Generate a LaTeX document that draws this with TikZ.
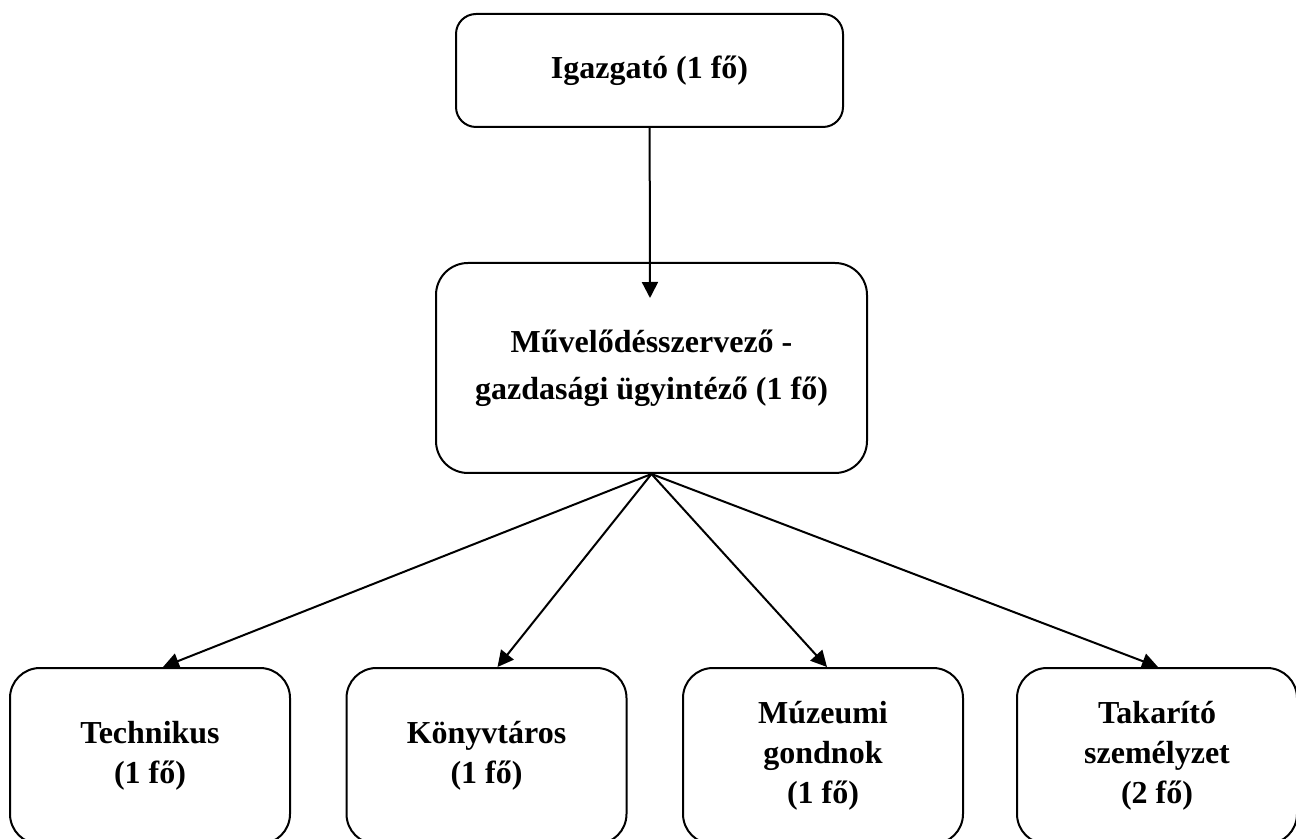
\documentclass[tikz,border=0pt]{standalone}
\usepackage{fontspec}
\setmainfont{Liberation Serif}
\usetikzlibrary{positioning,arrows.meta}
\tikzset{%
  every unit/.style={
    draw,
    line width=1pt,
    align=center,
    font=\bfseries\fontsize{16}{20}\selectfont
  },
  head unit/.style={
    every unit,
    rounded corners=10pt,
    minimum width=193.5pt,
    minimum height=56.5pt
  },
  mid unit/.style={
    every unit,
    rounded corners=16pt,
    minimum width=215.5pt,
    minimum height=105pt,
    font=\bfseries\fontsize{16}{23.5}\selectfont
  },
  staff unit/.style={
    every unit,
    rounded corners=15pt,
    minimum width=140pt,
    minimum height=88pt
  },
}

\begin{document}
\begin{tikzpicture}[>={Triangle[length=8pt,width=8pt]}, x=0.5pt, y=-0.5pt]
\useasboundingbox (0,0) rectangle (1296,839);
\node[head unit] (boss) at (649.5,70.5) {Igazgató (1 fő)};
\node[mid unit] (mid) at (651.5,368) {Művelődésszervező -\\gazdasági ügyintéző (1 fő)};
\coordinate (midin) at (650,298);
\node[staff unit] (tech) at (150,756) {Technikus\\(1 fő)};
\node[staff unit] (lib) at (486.5,756) {Könyvtáros\\(1 fő)};
\node[staff unit] (mus) at (823,756) {Múzeumi\\gondnok\\ (1 fő)};
\node[staff unit] (clean) at (1157,756) {Takarító\\személyzet\\(2 fő)};
\draw[line width=1pt, ->] (boss) -- (midin);
\foreach \n/\dx in {tech/6.5pt,lib/5.5pt,mus/2pt,clean/0.5pt}
    \draw[line width=1pt, ->] (mid.south) -- ([xshift=\dx]\n.north);
\end{tikzpicture}
\end{document}
